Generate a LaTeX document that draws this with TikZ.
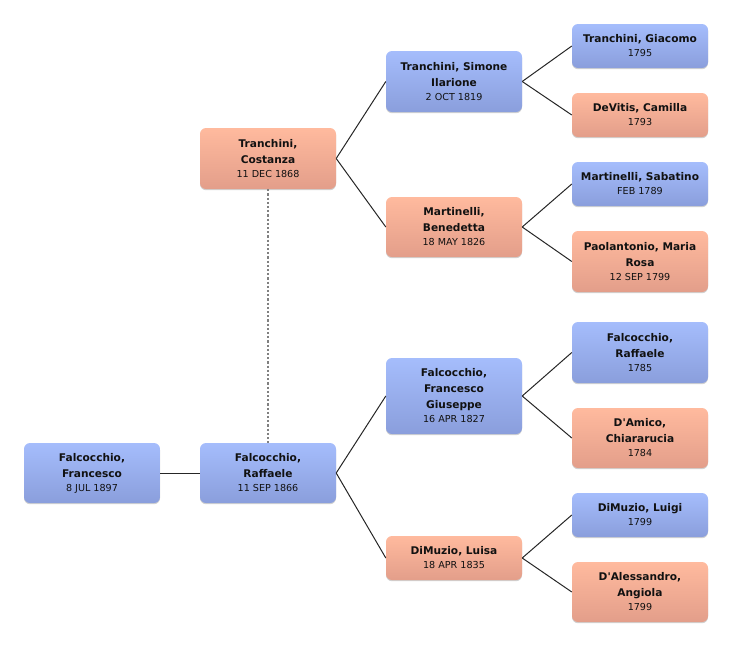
\documentclass[tikz,border=0pt]{standalone}
\usepackage{fontspec}
\setmainfont{DejaVu Sans}
\usetikzlibrary{shadows}
\definecolor{btop}{HTML}{A5BDFC}
\definecolor{bbot}{HTML}{8A9EDC}
\definecolor{ptop}{HTML}{FFBA9E}
\definecolor{pbot}{HTML}{E39E8A}
\definecolor{txt}{HTML}{111111}
\definecolor{dotc}{HTML}{808080}
\newcommand{\dtf}{\fontsize{9.6}{14}\selectfont\mdseries}
\tikzset{
  pbox/.style={rectangle, rounded corners=6pt, minimum width=136pt, inner sep=0pt,
    align=center, text=txt, font=\fontsize{10.6}{16}\selectfont\bfseries,
    drop shadow={shadow xshift=0pt, shadow yshift=-1.2pt, opacity=0.18, fill=black}},
  male/.style={pbox, top color=btop, bottom color=bbot},
  female/.style={pbox, top color=ptop, bottom color=pbot},
  link/.style={draw=black!85, line width=1pt},
  spouse/.style={draw=dotc, line width=1.6pt, dash pattern=on 2.2pt off 2pt}
}
\begin{document}
\begin{tikzpicture}[x=1pt,y=-1pt]
\useasboundingbox (0,0) rectangle (732,646);
% generation 1
\node[male, minimum height=60pt] (fr) at (92,473) {Falcocchio,\\Francesco\\[-2pt]{\dtf 8 JUL 1897}};
% generation 2
\node[male, minimum height=60pt] (raf) at (268,473) {Falcocchio,\\Raffaele\\[-2pt]{\dtf 11 SEP 1866}};
\node[female, minimum height=61pt] (cos) at (268,158.5) {Tranchini,\\Costanza\\[-2pt]{\dtf 11 DEC 1868}};
% generation 3
\node[male, minimum height=61pt] (sim) at (454,81.5) {Tranchini, Simone\\Ilarione\\[-2pt]{\dtf 2 OCT 1819}};
\node[female, minimum height=60pt] (ben) at (454,227) {Martinelli,\\Benedetta\\[-2pt]{\dtf 18 MAY 1826}};
\node[male, minimum height=76pt] (fg) at (454,396) {Falcocchio,\\Francesco\\Giuseppe\\[-2pt]{\dtf 16 APR 1827}};
\node[female, minimum height=44pt] (lui) at (454,558) {DiMuzio, Luisa\\[-2pt]{\dtf 18 APR 1835}};
% generation 4
\node[male, minimum height=44pt] (gia) at (640,46) {Tranchini, Giacomo\\[-2pt]{\dtf 1795}};
\node[female, minimum height=44pt] (cam) at (640,115) {DeVitis, Camilla\\[-2pt]{\dtf 1793}};
\node[male, minimum height=44pt] (sab) at (640,184) {Martinelli, Sabatino\\[-2pt]{\dtf FEB 1789}};
\node[female, minimum height=61pt] (mr) at (640,261.5) {Paolantonio, Maria\\Rosa\\[-2pt]{\dtf 12 SEP 1799}};
\node[male, minimum height=61pt] (raf2) at (640,352.5) {Falcocchio,\\Raffaele\\[-2pt]{\dtf 1785}};
\node[female, minimum height=60pt] (dam) at (640,438) {D\textquotesingle Amico,\\Chiararucia\\[-2pt]{\dtf 1784}};
\node[male, minimum height=44pt] (lg) at (640,515) {DiMuzio, Luigi\\[-2pt]{\dtf 1799}};
\node[female, minimum height=60pt] (ang) at (640,592) {D\textquotesingle Alessandro,\\Angiola\\[-2pt]{\dtf 1799}};
% connectors
\draw[link] (fr.east) -- (raf.west);
\draw[spouse] (cos.south) -- (raf.north);
\draw[link] (raf.east) -- (fg.west);
\draw[link] (raf.east) -- (lui.west);
\draw[link] (cos.east) -- (sim.west);
\draw[link] (cos.east) -- (ben.west);
\draw[link] (sim.east) -- (gia.west);
\draw[link] (sim.east) -- (cam.west);
\draw[link] (ben.east) -- (sab.west);
\draw[link] (ben.east) -- (mr.west);
\draw[link] (fg.east) -- (raf2.west);
\draw[link] (fg.east) -- (dam.west);
\draw[link] (lui.east) -- (lg.west);
\draw[link] (lui.east) -- (ang.west);
\end{tikzpicture}
\end{document}
